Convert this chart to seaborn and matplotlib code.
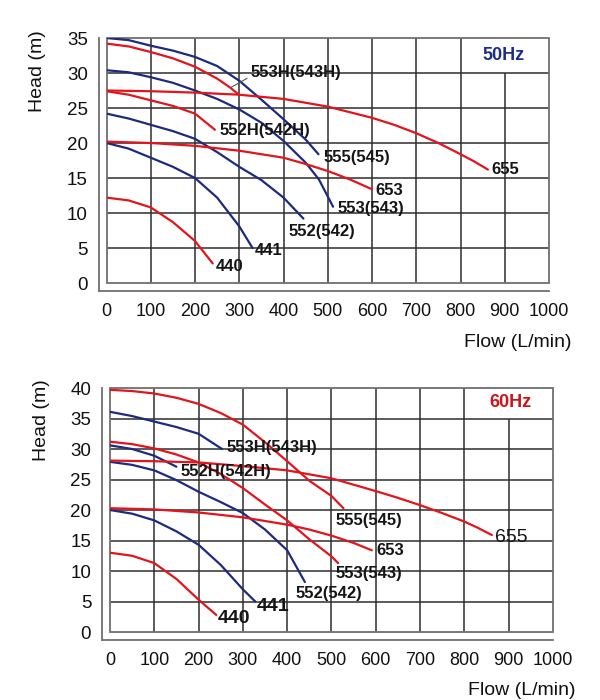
import numpy as np
import pandas as pd
import seaborn as sns
import matplotlib
matplotlib.use("Agg")
import matplotlib.pyplot as plt
from matplotlib.patches import Rectangle

# ── Pump curve readings: flow (L/min) vs head (m) ────────────────────────────
# 50 Hz
q440_50 = [0, 50, 100, 150, 200, 240]
h440_50 = [12.2, 11.8, 10.8, 8.7, 6.0, 2.8]
q441_50 = [0, 50, 100, 150, 200, 250, 300, 330]
h441_50 = [20.0, 19.2, 17.9, 16.6, 15.0, 12.2, 8.1, 5.0]
q552_50 = [0, 50, 100, 150, 200, 250, 300, 350, 400, 445]
h552_50 = [24.2, 23.5, 22.6, 21.7, 20.6, 18.7, 16.6, 14.7, 12.2, 9.2]
q553_50 = [0, 50, 100, 150, 200, 250, 300, 350, 400, 450, 480, 512]
h553_50 = [30.4, 30.1, 29.4, 28.6, 27.5, 26.3, 24.8, 22.9, 20.3, 17.2, 14.8, 10.9]
q555_50 = [0, 50, 100, 150, 200, 250, 300, 350, 400, 450, 479]
h555_50 = [35.0, 34.7, 33.9, 33.2, 32.3, 31.0, 28.9, 26.2, 23.4, 20.5, 18.4]
q553h_50 = [0, 50, 100, 150, 200, 250, 280, 297]
h553h_50 = [34.2, 33.8, 33.0, 32.1, 30.9, 29.2, 27.9, 27.0]
q552h_50 = [0, 50, 100, 150, 200, 245]
h552h_50 = [27.4, 26.9, 26.1, 25.3, 24.2, 21.9]
q655_50 = [0, 100, 200, 300, 400, 500, 600, 650, 700, 750, 800, 830, 862]
h655_50 = [27.5, 27.4, 27.2, 26.9, 26.3, 25.2, 23.6, 22.6, 21.4, 20.0, 18.4, 17.4, 16.2]
q653_50 = [0, 100, 200, 300, 400, 450, 500, 550, 600]
h653_50 = [20.2, 20.0, 19.6, 18.9, 17.9, 17.0, 16.0, 14.8, 13.4]

# 60 Hz
q440_60 = [0, 50, 100, 150, 200, 240]
h440_60 = [13.0, 12.5, 11.3, 8.7, 5.3, 2.8]
q441_60 = [0, 50, 100, 150, 200, 250, 300, 328]
h441_60 = [20.0, 19.4, 18.3, 16.5, 14.3, 11.0, 7.0, 5.0]
q552_60 = [0, 50, 100, 150, 200, 250, 300, 350, 400, 440]
h552_60 = [27.9, 27.4, 26.5, 24.9, 23.0, 21.3, 19.5, 16.8, 13.4, 8.2]
q552h_60 = [0, 50, 100, 150]
h552h_60 = [30.6, 30.0, 28.9, 27.1]
q553h_60 = [0, 50, 100, 150, 200, 253]
h553h_60 = [36.1, 35.4, 34.5, 33.6, 32.5, 30.0]
q553_60 = [0, 50, 100, 150, 200, 250, 300, 350, 400, 450, 500, 515]
h553_60 = [31.2, 30.8, 30.1, 29.1, 27.8, 25.9, 23.6, 20.9, 18.3, 15.2, 12.4, 11.3]
q555_60 = [0, 50, 100, 150, 200, 250, 300, 350, 400, 450, 500, 527]
h555_60 = [39.7, 39.5, 39.1, 38.4, 37.4, 35.9, 34.0, 31.1, 28.0, 24.8, 22.3, 20.3]
q655_60 = [0, 100, 200, 300, 400, 500, 600, 650, 700, 750, 800, 830, 862]
h655_60 = [28.1, 28.0, 27.8, 27.2, 26.5, 25.2, 23.1, 22.0, 20.8, 19.5, 18.1, 17.1, 15.9]
q653_60 = [0, 100, 200, 300, 400, 450, 500, 550, 591]
h653_60 = [20.3, 20.1, 19.6, 18.8, 17.6, 16.8, 15.8, 14.6, 13.4]

RED = "#e3141b"
BLUE = "#1d2b7d"
GRID = "#2e2e2e"
FRAME = "#707070"

curves_50 = [
    ("440", q440_50, h440_50, RED),
    ("441", q441_50, h441_50, BLUE),
    ("552(542)", q552_50, h552_50, BLUE),
    ("553(543)", q553_50, h553_50, BLUE),
    ("555(545)", q555_50, h555_50, BLUE),
    ("553H(543H)", q553h_50, h553h_50, RED),
    ("552H(542H)", q552h_50, h552h_50, RED),
    ("655", q655_50, h655_50, RED),
    ("653", q653_50, h653_50, RED),
]
curves_60 = [
    ("440", q440_60, h440_60, RED),
    ("441", q441_60, h441_60, BLUE),
    ("552(542)", q552_60, h552_60, BLUE),
    ("552H(542H)", q552h_60, h552h_60, BLUE),
    ("553H(543H)", q553h_60, h553h_60, BLUE),
    ("553(543)", q553_60, h553_60, RED),
    ("555(545)", q555_60, h555_60, RED),
    ("655", q655_60, h655_60, RED),
    ("653", q653_60, h653_60, RED),
]

# label placement: (dx px, dy px, size, weight, anchor index)
labels_50 = {
    "440": (3, -3, 12, "bold", -1),
    "441": (2, -2, 12, "bold", -1),
    "552(542)": (-15, -13, 12, "bold", -1),
    "553(543)": (4, -2, 12, "bold", -1),
    "555(545)": (5, -3, 12, "bold", -1),
    "553H(543H)": (20, 15, 12, "bold", -2),
    "552H(542H)": (5, -1, 12, "bold", -1),
    "655": (3, 0, 12, "bold", -1),
    "653": (3, -1, 12, "bold", -1),
}
labels_60 = {
    "440": (1, -4, 14, "bold", -1),
    "441": (1, -5, 14, "bold", -1),
    "552(542)": (-9, -11, 12, "bold", -1),
    "552H(542H)": (4, -5, 12, "bold", -1),
    "553H(543H)": (4, 2, 12, "bold", -1),
    "553(543)": (-3, -10, 12, "bold", -1),
    "555(545)": (-8, -12, 12, "bold", -1),
    "655": (3, -2, 14, "normal", -1),
    "653": (5, 0, 12, "bold", -1),
}


def to_frame(curves):
    rows = []
    for name, q, h, _ in curves:
        rows += [(name, a, b) for a, b in zip(q, h)]
    return pd.DataFrame(rows, columns=["curve", "flow", "head"])


def draw_panel(ax, curves, labels, ymax, hz, hz_color, hz_pos, ylab_pos, xlab_pos):
    df = to_frame(curves)
    palette = {name: c for name, _, _, c in curves}

    # grid box (900 line stops under the Hz tag)
    xt = np.arange(0, 1001, 100)
    yt = np.arange(0, ymax + 1, 5)
    inner_x = xt[1:-1]
    tops = [ymax - 5 if x == 900 else ymax for x in inner_x]
    ax.vlines(inner_x, 0, tops, color=GRID, lw=1.1, zorder=1)
    ax.hlines(yt[1:-1], 0, 1000, color=GRID, lw=1.1, zorder=1)
    ax.add_patch(Rectangle((0, 0), 1000, ymax, fill=False, ec=FRAME,
                           lw=1.3, zorder=1, clip_on=False))

    sns.lineplot(data=df, x="flow", y="head", hue="curve", palette=palette,
                 sort=False, estimator=None, legend=False, lw=1.6, ax=ax, zorder=3)
    for line in ax.get_lines():
        line.set_solid_joinstyle("round")

    for name, (dx, dy, size, weight, idx) in labels.items():
        sub = df[df.curve == name]
        xy = (sub.flow.iloc[idx], sub["head"].iloc[idx])
        arrow = None
        if idx != -1:
            arrow = dict(arrowstyle="-", color="#555555", lw=0.8,
                         shrinkA=0, shrinkB=0, relpos=(0, 0.25))
        ax.annotate(name, xy, xytext=(dx, dy), textcoords="offset pixels",
                    ha="left", va="center", fontsize=size, fontweight=weight,
                    color="#151515", arrowprops=arrow, zorder=4)

    ax.text(*hz_pos, hz, transform=ax.transAxes, ha="center", va="center",
            fontsize=13, fontweight="bold", color=hz_color)

    ax.set_xlim(0, 1000)
    ax.set_ylim(0, ymax)
    ax.set_xticks(xt)
    ax.set_yticks(yt)
    ax.tick_params(axis="x", direction="out", length=6, width=1.1,
                   color=FRAME, pad=3, labelsize=13, labelcolor="#111")
    ax.tick_params(axis="y", direction="in", length=5.5, width=1.1,
                   color=GRID, pad=8, labelsize=13.5, labelcolor="#111")

    for side in ["top", "right"]:
        ax.spines[side].set_visible(False)
    for side in ["left", "bottom"]:
        ax.spines[side].set_position(("outward", 5.5))
        ax.spines[side].set_color(FRAME)
        ax.spines[side].set_linewidth(1.3)
    ax.spines["left"].set_bounds(-ymax * 7.6 / 245, ymax)
    ax.spines["bottom"].set_bounds(-1000 * 7.6 / 443, 1000)

    ax.set_ylabel("Head (m)", fontsize=14, va="center", color="#111")
    ax.yaxis.set_label_coords(*ylab_pos)
    ax.set_xlabel("Flow (L/min)", fontsize=14, ha="right", va="center", color="#111")
    ax.xaxis.set_label_coords(*xlab_pos)
    ax.set_facecolor("white")


sns.set_theme(style="white")
plt.rcParams["font.family"] = ["Liberation Sans", "DejaVu Sans"]

fig = plt.figure(figsize=(6, 7), dpi=100)
ax_top = fig.add_axes([0.1775, 0.5957, 0.7375, 0.35])
ax_bot = fig.add_axes([0.1833, 0.0971, 0.7383, 0.3486])

draw_panel(ax_top, curves_50, labels_50, 35, "50Hz", "#1a2e8a",
           (0.898, 0.927), (-0.157, 0.865), (1.05, -0.241))
draw_panel(ax_bot, curves_60, labels_60, 40, "60Hz", "#d0121b",
           (0.903, 0.940), (-0.1535, 0.869), (1.05, -0.238))

fig.savefig("out.png", dpi=100, facecolor="white")
